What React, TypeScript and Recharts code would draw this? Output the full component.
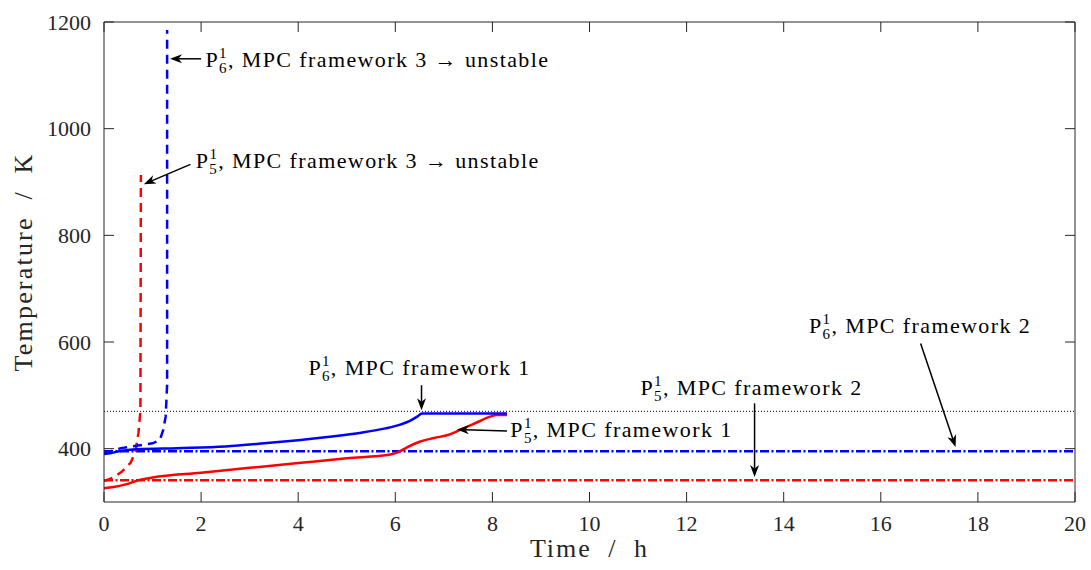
import {
  LineChart,
  Line,
  XAxis,
  YAxis,
  ReferenceLine,
  ReferenceDot,
} from "recharts";

const xTicks = [0, 2, 4, 6, 8, 10, 12, 14, 16, 18, 20];
const yTicks = [400, 600, 800, 1000, 1200];
const X_MAX = 20;
const Y_MIN = 300;
const Y_MAX = 1200;

// Temperature traces (time in h, temperature in K)
const p6Framework1 = [
  { t: 0, v: 390 }, { t: 0.15, v: 392 }, { t: 0.35, v: 396 }, { t: 0.7, v: 399 },
  { t: 1.5, v: 401 }, { t: 2.5, v: 404 }, { t: 3.3, v: 410 }, { t: 4.0, v: 416 },
  { t: 4.6, v: 422 }, { t: 5.3, v: 430 }, { t: 5.8, v: 438 }, { t: 6.1, v: 445 },
  { t: 6.3, v: 452 }, { t: 6.45, v: 460 }, { t: 6.55, v: 466 }, { t: 8.3, v: 466 },
];
const p5Framework1 = [
  { t: 0, v: 326 }, { t: 0.2, v: 328 }, { t: 0.45, v: 333 }, { t: 0.75, v: 342 },
  { t: 1.0, v: 346 }, { t: 2.0, v: 355 }, { t: 3.0, v: 364 }, { t: 4.0, v: 373 },
  { t: 5.0, v: 382 }, { t: 5.9, v: 389 }, { t: 6.05, v: 393 }, { t: 6.25, v: 403 },
  { t: 6.5, v: 413 }, { t: 6.8, v: 420 }, { t: 7.1, v: 426 }, { t: 7.4, v: 438 },
  { t: 7.7, v: 450 }, { t: 7.95, v: 460 }, { t: 8.1, v: 463 }, { t: 8.3, v: 463 },
];
const p5Framework3 = [
  { t: 0, v: 339 }, { t: 0.2, v: 346 }, { t: 0.37, v: 357 }, { t: 0.55, v: 374 },
  { t: 0.65, v: 395 }, { t: 0.71, v: 430 }, { t: 0.75, v: 470 }, { t: 0.76, v: 913 },
];
const p6Framework3 = [
  { t: 0, v: 391 }, { t: 0.35, v: 401 }, { t: 0.7, v: 406 }, { t: 1.0, v: 410 },
  { t: 1.15, v: 416 }, { t: 1.22, v: 435 }, { t: 1.27, v: 460 }, { t: 1.3, v: 520 },
  { t: 1.3, v: 1185 },
];
const p5Framework2 = [{ t: 0, v: 341 }, { t: 20, v: 341 }];
const p6Framework2 = [{ t: 0, v: 395 }, { t: 20, v: 395 }];
const tempLimit = 470;

// callouts: text anchor (t, v) and arrow from -> to, all in data units
const notes = [
  { sub: "6", rest: ", MPC framework 3 \u2192 unstable", t: 2.09, v: 1116, from: [2.0, 1131], to: [1.36, 1131] },
  { sub: "5", rest: ", MPC framework 3 \u2192 unstable", t: 1.89, v: 926, from: [1.78, 933], to: [0.82, 896] },
  { sub: "6", rest: ", MPC framework 1", t: 4.21, v: 538, from: [6.54, 519], to: [6.54, 472] },
  { sub: "5", rest: ", MPC framework 1", t: 8.37, v: 422, from: [8.3, 433], to: [7.27, 436] },
  { sub: "5", rest: ", MPC framework 2", t: 11.05, v: 500, from: [13.4, 485], to: [13.4, 347] },
  { sub: "6", rest: ", MPC framework 2", t: 14.52, v: 616, from: [16.82, 597], to: [17.54, 403] },
];

const FONT = "'Liberation Serif', 'Times New Roman', serif";
const AXIS = "#262626";
const BLUE = "#0000ff";
const RED = "#ff0000";
const DASH = "9 6";
const DASH_DOT = "9 2.5 2 2.5";

function BottomTick({ x, y, payload }: any) {
  return (
    <g>
      <line x1={x} x2={x} y1={y} y2={y - 10} stroke={AXIS} />
      <text x={x} y={y + 29} textAnchor="middle" fontFamily={FONT} fontSize={22} fill={AXIS}>
        {payload.value}
      </text>
    </g>
  );
}

function LeftTick({ x, y, payload }: any) {
  return (
    <g>
      <line x1={x} x2={x + 10} y1={y} y2={y} stroke={AXIS} />
      <text x={x - 13} y={y + 7.5} textAnchor="end" fontFamily={FONT} fontSize={22} fill={AXIS}>
        {payload.value}
      </text>
    </g>
  );
}

// inward tick on the top edge / right edge of the frame
const TopTickMark = ({ x1, y1 }: any) => <line x1={x1} x2={x1} y1={y1} y2={y1 + 10} stroke={AXIS} />;
const RightTickMark = ({ x1, y1 }: any) => <line x1={x1} x2={x1 - 10} y1={y1} y2={y1} stroke={AXIS} />;

function Arrow({ x1, y1, x2, y2 }: any) {
  const a = Math.atan2(y2 - y1, x2 - x1);
  const len = 12;
  const half = 4.5;
  const cos = Math.cos(a);
  const sin = Math.sin(a);
  const bx = x2 - len * cos;
  const by = y2 - len * sin;
  const nx = bx + 3.5 * cos;
  const ny = by + 3.5 * sin;
  const head = [
    [x2, y2],
    [bx - half * sin, by + half * cos],
    [nx, ny],
    [bx + half * sin, by - half * cos],
  ]
    .map((p) => p.join(","))
    .join(" ");
  return (
    <g>
      <line x1={x1} y1={y1} x2={nx} y2={ny} stroke="#000" strokeWidth={1.5} />
      <polygon points={head} fill="#000" />
    </g>
  );
}

function Callout({ cx, cy, sub, rest }: any) {
  return (
    <text x={cx} y={cy} fontFamily={FONT} fontSize={22} fill="#000" letterSpacing={1.4}>
      P
      <tspan fontSize={15} dy={-9}>1</tspan>
      <tspan fontSize={15} dx={-9} dy={15}>{sub}</tspan>
      <tspan dy={-6}>{rest}</tspan>
    </text>
  );
}

function XTitle({ viewBox }: any) {
  return (
    <text
      x={viewBox.x + viewBox.width / 2}
      y={viewBox.y + 55}
      textAnchor="middle"
      fontFamily={FONT}
      fontSize={26}
      fill={AXIS}
      letterSpacing={2}
      wordSpacing={8}
    >
      Time / h
    </text>
  );
}

function YTitle({ viewBox }: any) {
  const cx = 32;
  const cy = viewBox.y + viewBox.height / 2;
  return (
    <text
      x={cx}
      y={cy}
      transform={`rotate(-90 ${cx} ${cy})`}
      textAnchor="middle"
      fontFamily={FONT}
      fontSize={26}
      fill={AXIS}
      letterSpacing={2.2}
      wordSpacing={8}
    >
      Temperature / K
    </text>
  );
}

export default function App() {
  return (
    <div style={{ position: "absolute", left: 0, top: 0, width: 1091, height: 570, background: "#fff" }}>
      <LineChart width={1091} height={570} margin={{ top: 22, right: 16, bottom: 0, left: 44 }}>
        <XAxis
          dataKey="t"
          type="number"
          domain={[0, X_MAX]}
          ticks={xTicks}
          interval={0}
          allowDataOverflow
          height={68}
          tickSize={0}
          tickMargin={0}
          tick={<BottomTick />}
          stroke={AXIS}
          label={<XTitle />}
        />
        <YAxis
          type="number"
          domain={[Y_MIN, Y_MAX]}
          ticks={yTicks}
          interval={0}
          allowDataOverflow
          width={60}
          tickSize={0}
          tickMargin={0}
          tick={<LeftTick />}
          stroke={AXIS}
          label={<YTitle />}
        />

        {/* box frame: top and right edges with inward ticks */}
        <ReferenceLine y={Y_MAX} stroke={AXIS} ifOverflow="visible" />
        <ReferenceLine x={X_MAX} stroke={AXIS} ifOverflow="visible" />
        {xTicks.map((t) => (
          <ReferenceLine
            key={`tt-${t}`}
            segment={[{ x: t, y: Y_MAX }, { x: t, y: Y_MAX }]}
            ifOverflow="visible"
            shape={(p: any) => <TopTickMark {...p} />}
          />
        ))}
        {yTicks.map((v) => (
          <ReferenceLine
            key={`rt-${v}`}
            segment={[{ x: X_MAX, y: v }, { x: X_MAX, y: v }]}
            ifOverflow="visible"
            shape={(p: any) => <RightTickMark {...p} />}
          />
        ))}

        <ReferenceLine y={tempLimit} stroke="#000" strokeWidth={1} strokeDasharray="1 2" />

        <Line data={p5Framework2} dataKey="v" type="linear" stroke={RED} strokeWidth={2.5} strokeDasharray={DASH_DOT} dot={false} activeDot={false} isAnimationActive={false} />
        <Line data={p6Framework2} dataKey="v" type="linear" stroke={BLUE} strokeWidth={2.5} strokeDasharray={DASH_DOT} dot={false} activeDot={false} isAnimationActive={false} />
        <Line data={p5Framework3} dataKey="v" type="linear" stroke={RED} strokeWidth={2.5} strokeDasharray={DASH} dot={false} activeDot={false} isAnimationActive={false} />
        <Line data={p6Framework3} dataKey="v" type="linear" stroke={BLUE} strokeWidth={2.5} strokeDasharray={DASH} dot={false} activeDot={false} isAnimationActive={false} />
        <Line data={p5Framework1} dataKey="v" type="monotone" stroke={RED} strokeWidth={2.5} dot={false} activeDot={false} isAnimationActive={false} />
        <Line data={p6Framework1} dataKey="v" type="monotone" stroke={BLUE} strokeWidth={2.5} dot={false} activeDot={false} isAnimationActive={false} />

        {notes.map((n, i) => (
          <ReferenceLine
            key={`arrow-${i}`}
            segment={[
              { x: n.from[0], y: n.from[1] },
              { x: n.to[0], y: n.to[1] },
            ]}
            ifOverflow="visible"
            shape={(p: any) => <Arrow {...p} />}
          />
        ))}
        {notes.map((n, i) => (
          <ReferenceDot
            key={`note-${i}`}
            x={n.t}
            y={n.v}
            ifOverflow="visible"
            shape={(p: any) => <Callout cx={p.cx} cy={p.cy} sub={n.sub} rest={n.rest} />}
          />
        ))}
      </LineChart>
    </div>
  );
}
